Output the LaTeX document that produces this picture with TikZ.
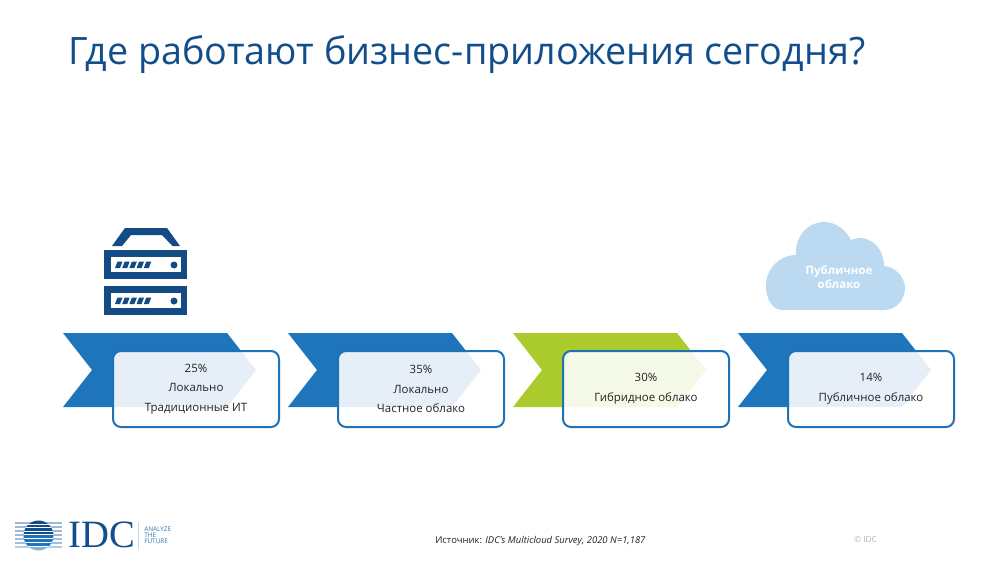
\documentclass[tikz,border=0pt]{standalone}
\usepackage{fontspec}
\setmainfont{Open Sans}
\newfontfamily\serifidc{Liberation Serif}
\definecolor{navy}{HTML}{134B85}
\definecolor{titleblue}{HTML}{124E8C}
\definecolor{midblue}{HTML}{1F75BC}
\definecolor{boxline}{HTML}{1E72B8}
\definecolor{lime}{HTML}{ABCB2D}
\definecolor{cloudblue}{HTML}{BBDAF2}
\definecolor{txt}{HTML}{222222}
\tikzset{
  x=0.75pt,y=-0.75pt,
  chevron/.style={fill=midblue,draw=none},
  limechevron/.style={fill=lime,draw=none},
  card/.style={draw=boxline,line width=1.5pt,fill=white,fill opacity=0.89,rounded corners=6pt},
  cardtext/.style={font=\fontsize{8.6pt}{14.8pt}\selectfont,text=txt,align=center,inner sep=0pt},
  icon/.style={fill=navy,draw=none},
  hole/.style={fill=white,draw=none}
}
\newcommand{\serverunit}[1]{%
  \begin{scope}[yshift=#1*-0.75pt]
    \fill[icon] (104,250) rectangle (187,279);
    \fill[hole] (111,257) rectangle (181,272);
    \foreach \i in {0,...,4} {
      \fill[icon] ({117.5+\i*7.2},261.5) -- ({122.5+\i*7.2},261.5) -- ({120+\i*7.2},268) -- ({115+\i*7.2},268) -- cycle;
    }
    \fill[icon] (174,265) circle[radius=3.5];
  \end{scope}}
\newcommand{\stagechevron}[2]{%
  \fill[#2,xshift=#1*0.75pt] (63,333) -- (227,333) -- (256,370) -- (227,407) -- (63,407) -- (92,370) -- cycle;}
\begin{document}
\begin{tikzpicture}
\useasboundingbox (0,0) rectangle (1000,586);
\fill[white] (0,0) rectangle (1000,586);
\node[anchor=west,inner sep=0pt,text=titleblue,font=\fontsize{28.3pt}{32pt}\selectfont] (title) at (68,55) {Где работают бизнес-приложения сегодня?};
% server icon
\fill[icon] (112,246) -- (125,228) -- (167,228) -- (180,246) -- (172.5,246) -- (162,235) -- (131,235) -- (122,246) -- cycle;
\serverunit{0}
\serverunit{36}
% cloud
\fill[cloudblue] (782,310) .. controls (772,310) and (766,298) .. (766,286)
  .. controls (766,268) and (780,255) .. (796,255)
  .. controls (795,236) and (808,222) .. (824,222)
  .. controls (836,222) and (846,230) .. (851,240)
  .. controls (867,233) and (884,246) .. (884,266)
  .. controls (896,267) and (905,278) .. (905,288)
  .. controls (905,300) and (896,310) .. (884,310) -- cycle;
\node[font=\bfseries\fontsize{8.6pt}{10.6pt}\selectfont,text=white,align=center,inner sep=0pt] (cloudlabel) at (839,277) {Публичное\\облако};
% chevrons and cards
\stagechevron{0}{chevron}
\stagechevron{225}{chevron}
\stagechevron{450}{limechevron}
\stagechevron{675}{chevron}
\draw[card] (113,351) rectangle (279,427);
\draw[card] (338,351) rectangle (504,427);
\draw[card] (563,351) rectangle (729,427);
\draw[card] (788,351) rectangle (954,427);
\node[cardtext] (c1) at (196,389) {25\%\\Локально\\Традиционные ИТ};
\node[cardtext] (c2) at (421,389) {35\%\\Локально\\Частное облако};
\node[cardtext] (c3) at (646,389) {30\%\\Гибридное облако};
\node[cardtext] (c4) at (871,389) {14\%\\Публичное облако};
% footer
\node[anchor=west,inner sep=0pt,text=txt,font=\fontsize{7.1pt}{9pt}\selectfont] (src) at (435,541) {Источник: \textit{IDC's Multicloud Survey, 2020 N=1,187}};
\node[anchor=west,inner sep=0pt,text=black!30,font=\fontsize{6.2pt}{8pt}\selectfont] (copy) at (854,540) {© IDC};
% logo: side stripes
\foreach \yy/\cc in {523/titleblue!40,527/titleblue!40,531/titleblue!40,535/titleblue!40,539/midblue!45,543/midblue!45,547/midblue!35} {
  \draw[\cc,line width=0.8pt] (15,\yy) -- (62,\yy);
}
% logo: globe bands
\begin{scope}
  \clip (38.5,535.5) circle[radius=15];
  \fill[white] (20,520) rectangle (58,552);
  \foreach \yy/\hh/\cc in {520/3.5/navy,524.5/2.5/navy,528/2.5/titleblue,531.5/2.5/titleblue,535/2.8/midblue!90!navy,538.8/3/midblue,543/3.2/midblue,547.2/4/midblue!55} {
    \fill[\cc] (20,\yy) rectangle (58,{\yy+\hh});
  }
\end{scope}
\node[anchor=west,inner sep=0pt,text=titleblue,font=\serifidc\fontsize{29pt}{30pt}\selectfont] (idc) at (68,535) {IDC};
\draw[cloudblue,line width=0.6pt] (138,522) -- (138,549);
\node[anchor=west,inner sep=0pt,text=midblue!80!gray,font=\fontsize{4.8pt}{4.5pt}\selectfont,align=left] (tag) at (144,535) {ANALYZE\\THE\\FUTURE};
\end{tikzpicture}
\end{document}
